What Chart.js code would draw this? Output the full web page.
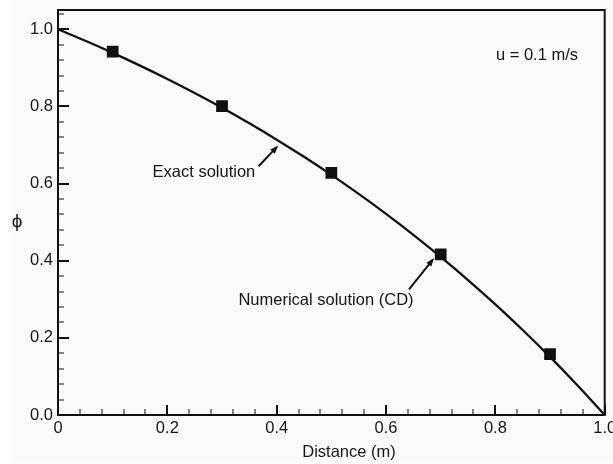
<!DOCTYPE html>
<html>
<head>
<meta charset="utf-8">
<script src="https://cdn.jsdelivr.net/npm/chart.js@4/dist/chart.umd.min.js"></script>
<style>
  html, body { margin: 0; padding: 0; background: #ffffff; }
  #wrap { width: 613px; height: 464px; }
</style>
</head>
<body>
<div id="wrap"><canvas id="phiChart" width="613" height="464"></canvas></div>
<script>
// Exact solution curve
const xExact = [0, 0.05, 0.1, 0.15, 0.2, 0.25, 0.3, 0.35, 0.4, 0.45, 0.5, 0.55, 0.6, 0.65, 0.7, 0.75, 0.8, 0.85, 0.9, 0.95, 1.0];
const phiExact = [1.0, 0.9702, 0.9388, 0.9058, 0.8712, 0.8347, 0.7964, 0.7561, 0.7138, 0.6693, 0.6225, 0.5733, 0.5215, 0.4672, 0.4100, 0.3499, 0.2868, 0.2204, 0.1506, 0.0772, 0.0];

// Numerical solution (CD) nodes
const xNumerical = [0.1, 0.3, 0.5, 0.7, 0.9];
const phiNumerical = [0.9421, 0.8006, 0.6276, 0.4163, 0.1579];

// Tick labels
const xTickValues = [0, 0.2, 0.4, 0.6, 0.8, 1.0];
const xTickLabels = ['0', '0.2', '0.4', '0.6', '0.8', '1.0'];
const yTickValues = [0, 0.2, 0.4, 0.6, 0.8, 1.0];
const yTickLabels = ['0.0', '0.2', '0.4', '0.6', '0.8', '1.0'];

const FONT = '"Liberation Sans", Arial, Helvetica, sans-serif';
const INK = '#111111';
const TEXT = '#161616';

Chart.defaults.font.family = FONT;
Chart.defaults.font.size = 16.5;
Chart.defaults.color = TEXT;

// Background, frame, inward ticks, axis titles and annotations
const decorPlugin = {
    id: 'decor',
    beforeDraw(chart) {
        const ctx = chart.ctx;
        ctx.save();
        ctx.fillStyle = '#ffffff';
        ctx.fillRect(0, 0, chart.width, chart.height);
        ctx.fillStyle = '#fafafa';
        ctx.fillRect(12, 0, chart.width - 12, chart.height - 2);
        ctx.restore();
    },
    afterDatasetsDraw(chart) {
        const ctx = chart.ctx;
        const a = chart.chartArea;
        const xs = chart.scales.x;
        const ys = chart.scales.y;
        ctx.save();

        // minor + major ticks, pointing inward
        ctx.strokeStyle = INK;
        for (let i = 0; i <= 25; i++) {
            const v = i * 0.04;
            const major = i % 5 === 0;
            const px = Math.round(xs.getPixelForValue(v));
            ctx.lineWidth = major ? 2 : 1;
            ctx.beginPath();
            ctx.moveTo(px, a.bottom);
            ctx.lineTo(px, a.bottom - (major ? 10 : 6));
            ctx.stroke();
        }
        for (let i = 0; i <= 26; i++) {
            const v = i * 0.04;
            if (v > 1.05) break;
            const major = i % 5 === 0;
            const py = Math.round(ys.getPixelForValue(v));
            ctx.lineWidth = major ? 2 : 1;
            ctx.beginPath();
            ctx.moveTo(a.left, py);
            ctx.lineTo(a.left + (major ? 11 : 6), py);
            ctx.stroke();
        }

        // frame
        ctx.lineWidth = 2;
        ctx.strokeRect(a.left, a.top, a.right - a.left, a.bottom - a.top);

        // axis titles
        ctx.fillStyle = TEXT;
        ctx.font = '16.5px ' + FONT;
        ctx.textAlign = 'center';
        ctx.textBaseline = 'middle';
        ctx.fillText('Distance (m)', 349, 452);
        ctx.font = '19px ' + FONT;
        ctx.fillText('ϕ', 17, 222);

        // annotations
        ctx.font = '16.5px ' + FONT;
        ctx.textAlign = 'left';
        ctx.fillText('u = 0.1 m/s', xs.getPixelForValue(0.801), ys.getPixelForValue(0.933));
        ctx.fillText('Exact solution', xs.getPixelForValue(0.173), ys.getPixelForValue(0.630));
        ctx.fillText('Numerical solution (CD)', xs.getPixelForValue(0.330), ys.getPixelForValue(0.298));

        const arrow = (x0, y0, x1, y1) => {
            const p0 = [xs.getPixelForValue(x0), ys.getPixelForValue(y0)];
            const p1 = [xs.getPixelForValue(x1), ys.getPixelForValue(y1)];
            const ang = Math.atan2(p1[1] - p0[1], p1[0] - p0[0]);
            const head = 9;
            ctx.lineWidth = 2;
            ctx.beginPath();
            ctx.moveTo(p0[0], p0[1]);
            ctx.lineTo(p1[0] - Math.cos(ang) * head * 0.8, p1[1] - Math.sin(ang) * head * 0.8);
            ctx.stroke();
            ctx.beginPath();
            ctx.moveTo(p1[0], p1[1]);
            ctx.lineTo(p1[0] - head * Math.cos(ang - 0.35), p1[1] - head * Math.sin(ang - 0.35));
            ctx.lineTo(p1[0] - head * Math.cos(ang + 0.35), p1[1] - head * Math.sin(ang + 0.35));
            ctx.closePath();
            ctx.fill();
        };
        ctx.fillStyle = INK;
        arrow(0.367, 0.645, 0.403, 0.699);
        arrow(0.642, 0.326, 0.688, 0.407);

        ctx.restore();
    }
};

const ctx = document.getElementById('phiChart').getContext('2d');
new Chart(ctx, {
    type: 'line',
    data: {
        datasets: [
            {
                label: 'Exact solution',
                data: xExact.map((x, i) => ({ x: x, y: phiExact[i] })),
                borderColor: INK,
                borderWidth: 2.3,
                pointRadius: 0,
                tension: 0.4,
                fill: false
            },
            {
                label: 'Numerical solution (CD)',
                data: xNumerical.map((x, i) => ({ x: x, y: phiNumerical[i] })),
                showLine: false,
                pointStyle: 'rect',
                pointRadius: 8.3,
                pointBorderWidth: 0,
                pointBackgroundColor: INK,
                pointBorderColor: INK
            }
        ]
    },
    options: {
        responsive: false,
        animation: false,
        layout: { padding: { top: 10, right: 7, left: 0, bottom: 0 } },
        plugins: {
            legend: { display: false },
            tooltip: { enabled: false }
        },
        scales: {
            x: {
                type: 'linear',
                min: 0,
                max: 1,
                grid: { display: false, drawTicks: false },
                border: { display: false },
                afterBuildTicks: s => { s.ticks = xTickValues.map(v => ({ value: v })); },
                ticks: {
                    padding: 4,
                    maxRotation: 0,
                    color: TEXT,
                    callback: v => xTickLabels[xTickValues.indexOf(v)]
                },
                afterFit: s => {
                    s.height = 49;
                    s.paddingLeft = 0; s.paddingRight = 0;
                }
            },
            y: {
                type: 'linear',
                min: 0,
                max: 1.05,
                grid: { display: false, drawTicks: false },
                border: { display: false },
                afterBuildTicks: s => { s.ticks = yTickValues.map(v => ({ value: v })); },
                ticks: {
                    padding: 5,
                    color: TEXT,
                    callback: v => yTickLabels[yTickValues.indexOf(v)]
                },
                afterFit: s => {
                    s.width = 58;
                    s.paddingTop = 0; s.paddingBottom = 0;
                }
            }
        }
    },
    plugins: [decorPlugin]
});
</script>
</body>
</html>
